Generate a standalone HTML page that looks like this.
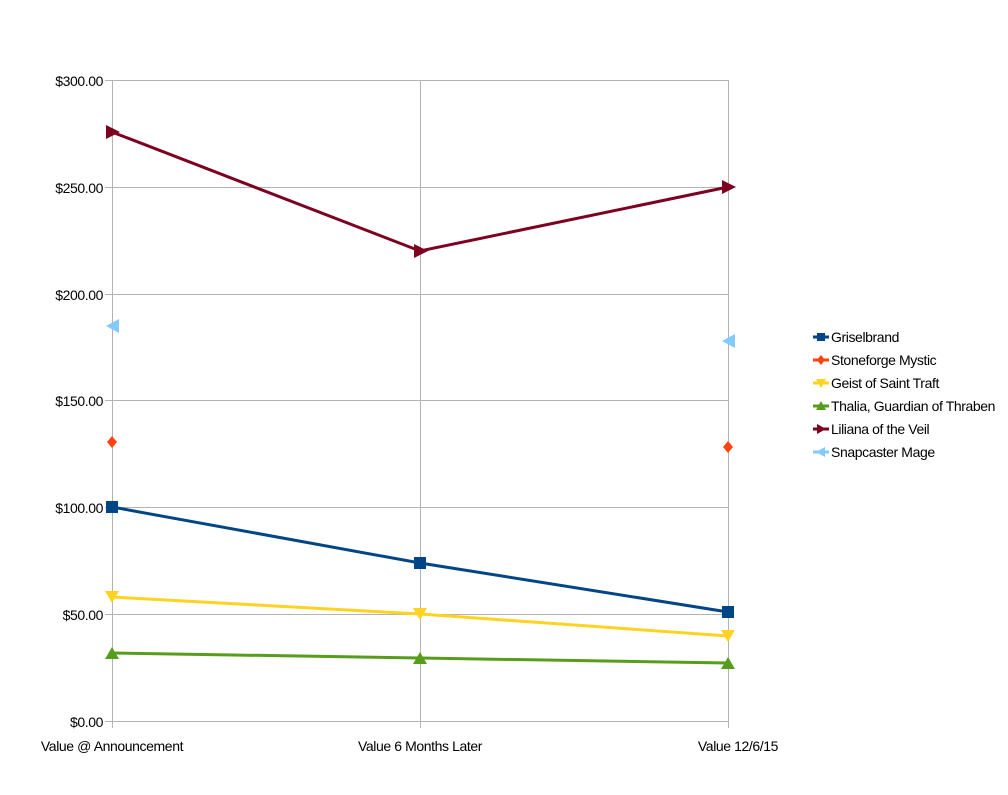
<!DOCTYPE html>
<html><head><style>body{margin:0;background:#fff}svg text{font-family:"Liberation Sans",sans-serif;font-size:14px;letter-spacing:-0.4px;fill:#000}</style></head>
<body>
<svg width="1008" height="790" xmlns="http://www.w3.org/2000/svg">
<g stroke="#b3b3b3" stroke-width="1">
<line x1="105" y1="80.5" x2="728" y2="80.5"/><line x1="105" y1="187.5" x2="728" y2="187.5"/>
<line x1="105" y1="294.5" x2="728" y2="294.5"/><line x1="105" y1="400.5" x2="728" y2="400.5"/>
<line x1="105" y1="507.5" x2="728" y2="507.5"/><line x1="105" y1="614.5" x2="728" y2="614.5"/>
<line x1="105" y1="721.5" x2="728" y2="721.5"/>
<line x1="112.5" y1="80" x2="112.5" y2="728"/><line x1="420.5" y1="80" x2="420.5" y2="728"/><line x1="728.5" y1="80" x2="728.5" y2="728"/>
</g>
<g text-anchor="end">
<text x="103" y="86">$300.00</text><text x="103" y="193">$250.00</text><text x="103" y="300">$200.00</text>
<text x="103" y="406">$150.00</text><text x="103" y="513">$100.00</text><text x="103" y="620">$50.00</text><text x="103" y="727">$0.00</text>
</g>
<g text-anchor="middle">
<text x="112" y="751">Value @ Announcement</text><text x="420" y="751">Value 6 Months Later</text><text x="738" y="751">Value 12/6/15</text>
</g>
<polyline points="112,132 420,251 728,187" fill="none" stroke="#7e0021" stroke-width="3"/>
<g fill="#7e0021"><polygon points="106,125 120,132 106,139"/><polygon points="414,244 428,251 414,258"/><polygon points="722,180 736,187 722,194"/></g>
<polyline points="112,507 420,563 728,612" fill="none" stroke="#004586" stroke-width="3"/>
<g fill="#004586"><rect x="106" y="501" width="12" height="12"/><rect x="414" y="557" width="12" height="12"/><rect x="722" y="606" width="12" height="12"/></g>
<polyline points="112,597 420,614 728,636" fill="none" stroke="#ffd320" stroke-width="3"/>
<g fill="#ffd320"><polygon points="105,591 119,591 112,603"/><polygon points="413,608 427,608 420,620"/><polygon points="721,630 735,630 728,642"/></g>
<polyline points="112,653 420,658 728,663" fill="none" stroke="#579d1c" stroke-width="3"/>
<g fill="#579d1c"><polygon points="105,659 119,659 112,647"/><polygon points="413,664 427,664 420,652"/><polygon points="721,669 735,669 728,657"/></g>
<g fill="#ff420e"><polygon points="112,436 117,442 112,448 107,442"/><polygon points="728,441 733,447 728,453 723,447"/></g>
<g fill="#83caff"><polygon points="119,319 119,333 106,326"/><polygon points="735,334 735,348 722,341"/></g>
<g>
<line x1="813" y1="337" x2="829" y2="337" stroke="#004586" stroke-width="3"/><rect x="817" y="333" width="8" height="8" fill="#004586"/>
<text x="831" y="342">Griselbrand</text>
<line x1="813" y1="360" x2="829" y2="360" stroke="#ff420e" stroke-width="3"/><polygon points="821,355 825,360 821,365 817,360" fill="#ff420e"/>
<text x="831" y="365">Stoneforge Mystic</text>
<line x1="813" y1="383" x2="829" y2="383" stroke="#ffd320" stroke-width="3"/><polygon points="816,379 826,379 821,388" fill="#ffd320"/>
<text x="831" y="388">Geist of Saint Traft</text>
<line x1="813" y1="406" x2="829" y2="406" stroke="#579d1c" stroke-width="3"/><polygon points="816,410 826,410 821,401" fill="#579d1c"/>
<text x="831" y="411">Thalia, Guardian of Thraben</text>
<line x1="813" y1="429" x2="829" y2="429" stroke="#7e0021" stroke-width="3"/><polygon points="817,424 826,429 817,434" fill="#7e0021"/>
<text x="831" y="434">Liliana of the Veil</text>
<line x1="813" y1="452" x2="829" y2="452" stroke="#83caff" stroke-width="3"/><polygon points="825,447 825,457 816,452" fill="#83caff"/>
<text x="831" y="457">Snapcaster Mage</text>
</g>
</svg>
</body></html>
